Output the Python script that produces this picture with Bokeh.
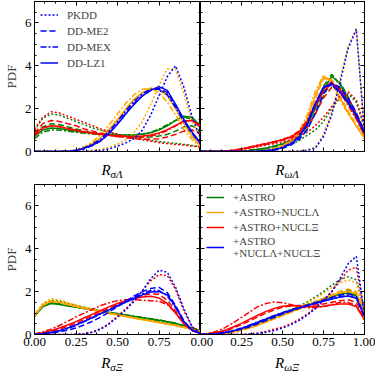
from bokeh.plotting import figure
from bokeh.layouts import column, row
from bokeh.models import Range1d, SingleIntervalTicker, LinearAxis, Legend, LegendItem, Div
from bokeh.embed import file_html
from bokeh.resources import INLINE

FONT = "Liberation Serif"

X = [0.00, 0.05, 0.10, 0.15, 0.20, 0.25, 0.30, 0.35, 0.40, 0.45, 0.50,
     0.55, 0.60, 0.65, 0.70, 0.75, 0.80, 0.85, 0.90, 0.95, 1.00]

GROUPS = ["ASTRO", "NL", "NX", "ALL"]
GROUP_LABELS = ["+ASTRO", "+ASTRO+NUCLΛ", "+ASTRO+NUCLΞ", "+ASTRO\n+NUCLΛ+NUCLΞ"]
GROUP_COLORS = ["green", "orange", "red", "blue"]
MODELS = ["PKDD", "ME2", "MEX", "LZ1"]
MODEL_LABELS = ["PKDD", "DD-ME2", "DD-MEX", "DD-LZ1"]
MODEL_DASHES = ["2 2", "6 3", "6 2 2 2", "solid"]

# ---------------- R_sigma_Lambda ----------------
SL_ASTRO_PKDD = [1.00,1.55,1.75,1.70,1.55,1.40,1.25,1.10,1.00,0.90,0.80,0.72,0.65,0.58,0.52,0.47,0.42,0.38,0.33,0.28,0.22]
SL_ASTRO_ME2 = [0.80,1.15,1.30,1.25,1.15,1.05,0.95,0.88,0.82,0.77,0.73,0.70,0.68,0.67,0.68,0.72,0.80,0.95,1.15,1.20,0.95]
SL_ASTRO_MEX = [0.60,0.90,1.00,1.00,0.95,0.90,0.85,0.82,0.80,0.78,0.77,0.76,0.78,0.82,0.90,1.05,1.25,1.45,1.60,1.50,1.10]
SL_ASTRO_LZ1 = [0.70,1.00,1.10,1.07,1.00,0.95,0.90,0.86,0.82,0.80,0.78,0.77,0.77,0.80,0.87,1.00,1.20,1.45,1.65,1.60,1.20]
SL_NL_PKDD = [0,0,0,0,0,0.01,0.02,0.05,0.10,0.20,0.35,0.55,0.90,1.40,2.20,3.10,3.85,3.85,2.70,1.40,0.60]
SL_NL_ME2 = [0,0,0,0,0.01,0.05,0.15,0.33,0.60,1.00,1.45,1.95,2.40,2.75,2.95,2.95,2.65,2.00,1.30,0.70,0.25]
SL_NL_MEX = [0,0,0,0,0.02,0.08,0.22,0.45,0.80,1.25,1.75,2.25,2.65,2.90,2.95,2.75,2.30,1.70,1.05,0.55,0.20]
SL_NL_LZ1 = [0,0,0,0,0.01,0.06,0.18,0.38,0.65,1.05,1.50,2.00,2.45,2.75,2.95,2.90,2.60,2.00,1.30,0.70,0.25]
SL_NX_PKDD = [1.05,1.60,1.85,1.80,1.65,1.50,1.35,1.20,1.05,0.92,0.80,0.70,0.62,0.55,0.48,0.42,0.37,0.33,0.30,0.26,0.20]
SL_NX_ME2 = [0.85,1.30,1.45,1.40,1.30,1.20,1.05,0.95,0.85,0.77,0.70,0.65,0.60,0.58,0.57,0.60,0.68,0.80,0.95,1.00,0.85]
SL_NX_MEX = [0.75,1.10,1.20,1.15,1.05,0.97,0.90,0.84,0.78,0.74,0.70,0.68,0.67,0.68,0.72,0.82,0.98,1.20,1.40,1.45,1.15]
SL_NX_LZ1 = [0.80,1.10,1.20,1.17,1.08,1.00,0.92,0.86,0.80,0.76,0.73,0.71,0.70,0.72,0.77,0.87,1.02,1.22,1.42,1.45,1.20]
SL_ALL_PKDD = [0,0,0,0,0,0,0.01,0.02,0.05,0.12,0.25,0.40,0.60,1.00,1.70,2.60,3.50,4.00,3.00,1.60,0.60]
SL_ALL_ME2 = [0,0,0,0,0,0.04,0.13,0.28,0.50,0.85,1.30,1.80,2.25,2.60,2.85,2.95,2.75,2.15,1.45,0.85,0.35]
SL_ALL_MEX = [0,0,0,0,0.01,0.06,0.17,0.35,0.58,0.95,1.40,1.90,2.35,2.70,2.90,2.90,2.65,2.05,1.40,0.85,0.35]
SL_ALL_LZ1 = [0,0,0,0,0,0.05,0.15,0.30,0.50,0.85,1.27,1.75,2.20,2.60,2.85,3.03,2.85,2.20,1.50,0.90,0.40]

# ---------------- R_omega_Lambda ----------------
WL_ASTRO_PKDD = [0,0,0,0,0,0.01,0.02,0.04,0.08,0.13,0.20,0.32,0.50,0.75,1.00,1.40,2.00,2.50,2.70,2.30,1.10]
WL_ASTRO_ME2 = [0,0,0,0,0.01,0.03,0.05,0.09,0.14,0.22,0.32,0.45,0.68,1.05,1.75,2.60,3.30,3.25,2.55,1.75,0.90]
WL_ASTRO_MEX = [0,0,0,0,0.01,0.03,0.06,0.10,0.16,0.26,0.37,0.52,0.80,1.30,2.15,3.05,3.60,3.15,2.30,1.55,0.75]
WL_ASTRO_LZ1 = [0,0,0,0,0.01,0.03,0.05,0.10,0.15,0.25,0.35,0.50,0.75,1.20,2.00,2.90,3.50,3.20,2.40,1.60,0.80]
WL_NL_PKDD = [0,0,0,0,0,0,0,0,0,0,0,0.01,0.03,0.07,0.20,0.80,1.85,3.35,4.90,5.75,0.90]
WL_NL_ME2 = [0,0,0,0,0,0,0,0.01,0.04,0.10,0.22,0.40,0.75,1.40,2.45,3.40,3.35,2.60,1.90,1.25,0.65]
WL_NL_MEX = [0,0,0,0,0,0,0,0.02,0.06,0.14,0.28,0.50,0.90,1.70,2.80,3.55,3.20,2.40,1.75,1.20,0.60]
WL_NL_LZ1 = [0,0,0,0,0,0,0,0.01,0.05,0.12,0.25,0.45,0.80,1.50,2.60,3.50,3.30,2.50,1.80,1.20,0.60]
WL_NX_PKDD = [0,0,0,0.01,0.03,0.08,0.15,0.22,0.30,0.37,0.45,0.55,0.70,0.90,1.20,1.60,2.10,2.60,2.80,2.40,1.20]
WL_NX_ME2 = [0,0,0,0.02,0.05,0.10,0.18,0.26,0.34,0.42,0.52,0.64,0.82,1.15,1.75,2.50,3.00,2.95,2.50,1.80,0.95]
WL_NX_MEX = [0,0,0,0.02,0.06,0.13,0.21,0.30,0.38,0.47,0.57,0.70,0.95,1.45,2.25,2.95,3.25,2.80,2.15,1.50,0.75]
WL_NX_LZ1 = [0,0,0,0.02,0.06,0.12,0.20,0.28,0.36,0.45,0.55,0.68,0.90,1.35,2.10,2.80,3.20,2.90,2.30,1.60,0.80]
WL_ALL_PKDD = [0,0,0,0,0,0,0,0,0,0,0,0.01,0.02,0.05,0.15,0.70,1.70,3.20,4.80,5.70,0.90]
WL_ALL_ME2 = [0,0,0,0,0,0,0,0.01,0.03,0.07,0.15,0.30,0.55,1.00,1.80,2.70,3.20,3.00,2.50,1.80,0.90]
WL_ALL_MEX = [0,0,0,0,0,0,0,0.01,0.04,0.09,0.20,0.38,0.70,1.30,2.25,3.00,3.10,2.75,2.25,1.65,0.85]
WL_ALL_LZ1 = [0,0,0,0,0,0,0,0.01,0.03,0.08,0.18,0.35,0.65,1.25,2.20,3.00,3.15,2.80,2.30,1.70,0.90]

# ---------------- R_sigma_Xi ----------------
SX_ASTRO_PKDD = [0.90,1.40,1.60,1.55,1.45,1.35,1.27,1.19,1.10,1.02,0.95,0.88,0.81,0.74,0.67,0.60,0.53,0.45,0.37,0.27,0.15]
SX_ASTRO_ME2 = [0.90,1.35,1.52,1.46,1.38,1.30,1.22,1.15,1.08,1.01,0.94,0.88,0.82,0.76,0.70,0.64,0.58,0.50,0.40,0.29,0.17]
SX_ASTRO_MEX = [0.85,1.30,1.48,1.43,1.36,1.29,1.22,1.16,1.10,1.04,0.98,0.92,0.86,0.80,0.74,0.68,0.61,0.53,0.43,0.31,0.18]
SX_ASTRO_LZ1 = [0.85,1.30,1.45,1.40,1.33,1.27,1.20,1.14,1.08,1.02,0.96,0.90,0.84,0.78,0.72,0.66,0.60,0.52,0.42,0.30,0.18]
SX_NL_PKDD = [0.92,1.45,1.68,1.62,1.50,1.39,1.28,1.18,1.09,1.00,0.92,0.84,0.76,0.69,0.62,0.55,0.48,0.41,0.33,0.24,0.14]
SX_NL_ME2 = [0.90,1.40,1.58,1.52,1.42,1.33,1.24,1.15,1.07,0.99,0.91,0.84,0.77,0.70,0.63,0.56,0.49,0.41,0.33,0.24,0.14]
SX_NL_MEX = [0.87,1.36,1.54,1.49,1.40,1.31,1.23,1.15,1.07,0.99,0.92,0.85,0.78,0.71,0.64,0.57,0.50,0.43,0.35,0.26,0.15]
SX_NL_LZ1 = [0.88,1.38,1.55,1.50,1.40,1.31,1.22,1.14,1.06,0.98,0.91,0.84,0.77,0.70,0.63,0.56,0.49,0.42,0.34,0.25,0.15]
SX_NX_PKDD = [0,0,0,0,0,0.01,0.04,0.12,0.28,0.52,0.85,1.20,1.60,2.05,2.50,2.80,2.75,2.10,1.10,0.35,0.05]
SX_NX_ME2 = [0.01,0.06,0.14,0.25,0.38,0.52,0.70,0.88,1.05,1.22,1.40,1.55,1.70,1.82,1.90,1.88,1.60,1.10,0.55,0.20,0.05]
SX_NX_MEX = [0.03,0.12,0.25,0.42,0.62,0.82,1.00,1.18,1.35,1.48,1.58,1.62,1.62,1.60,1.58,1.55,1.40,1.00,0.50,0.18,0.05]
SX_NX_LZ1 = [0.02,0.08,0.18,0.30,0.45,0.60,0.78,0.95,1.12,1.30,1.45,1.58,1.68,1.75,1.78,1.70,1.45,1.00,0.50,0.18,0.05]
SX_ALL_PKDD = [0,0,0,0,0,0.01,0.03,0.10,0.25,0.50,0.80,1.15,1.55,2.05,2.60,3.00,2.90,2.20,1.20,0.35,0.05]
SX_ALL_ME2 = [0,0.02,0.06,0.12,0.20,0.30,0.45,0.62,0.82,1.05,1.30,1.55,1.80,2.00,2.15,2.20,1.95,1.35,0.65,0.20,0.05]
SX_ALL_MEX = [0,0.03,0.09,0.17,0.28,0.42,0.60,0.78,0.97,1.15,1.35,1.55,1.75,1.90,2.05,2.05,1.80,1.25,0.60,0.20,0.05]
SX_ALL_LZ1 = [0,0.03,0.10,0.18,0.30,0.45,0.62,0.80,0.98,1.15,1.33,1.50,1.68,1.85,1.98,2.00,1.85,1.30,0.60,0.20,0.05]

# ---------------- R_omega_Xi ----------------
WX_ASTRO_PKDD = [0,0,0.02,0.05,0.10,0.20,0.32,0.45,0.60,0.77,0.95,1.13,1.32,1.52,1.75,2.00,2.30,2.55,2.70,2.55,1.00]
WX_ASTRO_ME2 = [0,0.01,0.03,0.07,0.13,0.22,0.34,0.48,0.63,0.79,0.95,1.10,1.24,1.38,1.53,1.68,1.83,1.95,2.05,1.95,0.95]
WX_ASTRO_MEX = [0,0.01,0.04,0.09,0.17,0.28,0.41,0.56,0.72,0.87,1.02,1.15,1.27,1.39,1.51,1.63,1.75,1.85,1.90,1.80,0.90]
WX_ASTRO_LZ1 = [0,0.01,0.03,0.08,0.15,0.25,0.38,0.52,0.68,0.84,1.00,1.13,1.25,1.38,1.52,1.65,1.78,1.88,1.95,1.85,0.90]
WX_NL_PKDD = [0,0,0.02,0.05,0.10,0.18,0.29,0.42,0.56,0.72,0.90,1.08,1.27,1.47,1.68,1.92,2.18,2.40,2.55,2.40,0.95]
WX_NL_ME2 = [0,0.01,0.02,0.06,0.12,0.20,0.31,0.44,0.58,0.73,0.88,1.03,1.18,1.34,1.51,1.69,1.87,2.02,2.12,2.00,1.00]
WX_NL_MEX = [0,0.01,0.03,0.08,0.14,0.23,0.35,0.48,0.62,0.77,0.92,1.07,1.21,1.36,1.52,1.68,1.83,1.95,2.00,1.90,0.95]
WX_NL_LZ1 = [0,0.01,0.03,0.07,0.13,0.22,0.33,0.46,0.60,0.75,0.90,1.05,1.19,1.34,1.50,1.66,1.82,1.95,2.02,1.92,0.95]
WX_NX_PKDD = [0,0,0,0,0,0.01,0.03,0.07,0.15,0.25,0.35,0.50,0.70,0.95,1.25,1.60,2.00,2.50,3.00,3.15,1.00]
WX_NX_ME2 = [0,0.02,0.08,0.17,0.30,0.46,0.64,0.82,1.00,1.15,1.27,1.33,1.35,1.36,1.38,1.42,1.50,1.58,1.62,1.50,0.75]
WX_NX_MEX = [0,0.05,0.15,0.32,0.55,0.80,1.05,1.30,1.45,1.52,1.48,1.40,1.30,1.25,1.25,1.30,1.40,1.50,1.50,1.35,0.70]
WX_NX_LZ1 = [0,0.03,0.10,0.20,0.35,0.52,0.72,0.90,1.08,1.22,1.32,1.35,1.33,1.30,1.30,1.32,1.38,1.42,1.42,1.30,0.70]
WX_ALL_PKDD = [0,0,0,0,0,0,0.02,0.05,0.10,0.18,0.30,0.45,0.65,0.90,1.20,1.60,2.00,2.60,3.30,3.65,0.90]
WX_ALL_ME2 = [0,0.01,0.03,0.08,0.15,0.24,0.36,0.50,0.65,0.80,0.95,1.09,1.22,1.35,1.48,1.61,1.73,1.84,1.90,1.78,0.88]
WX_ALL_MEX = [0,0.01,0.04,0.10,0.19,0.30,0.44,0.59,0.74,0.89,1.02,1.14,1.25,1.36,1.47,1.57,1.67,1.76,1.80,1.70,0.85]
WX_ALL_LZ1 = [0,0.01,0.04,0.10,0.18,0.28,0.42,0.57,0.72,0.87,1.00,1.12,1.23,1.34,1.45,1.55,1.65,1.75,1.80,1.70,0.85]

X_TICK_LABELS = {0: "0.00", 0.25: "0.25", 0.5: "0.50", 0.75: "0.75", 1: "1.00"}
X_LABEL_SUBS = ["σΛ", "ωΛ", "σΞ", "ωΞ"]


def panel_data(prefix):
    g = globals()
    return {(grp, mod): g[f"{prefix}_{grp}_{mod}"] for grp in GROUPS for mod in MODELS}


def style_axis(ax, show_labels):
    ax.major_tick_in = 4
    ax.major_tick_out = 0
    ax.minor_tick_in = 2
    ax.minor_tick_out = 0
    ax.axis_line_color = "black"
    ax.major_tick_line_color = "black"
    ax.minor_tick_line_color = "black"
    ax.major_label_text_font = FONT
    if show_labels:
        ax.major_label_text_color = "black"
        ax.major_label_text_font_size = "13px"
        ax.major_label_standoff = 3
    else:
        ax.major_label_text_color = None
        ax.major_label_text_font_size = "0px"
        ax.major_label_standoff = 0


def make_panel(prefix, show_x, show_y, fw, fh, mb, shift=False):
    kw = {}
    if shift:
        kw["styles"] = {"margin-left": f"-{mb[0]}px"}
    p = figure(frame_width=fw, frame_height=fh, output_backend="svg",
               toolbar_location=None, x_range=Range1d(0, 1), y_range=Range1d(0, 7),
               min_border_left=mb[0], min_border_right=mb[1],
               min_border_top=mb[2], min_border_bottom=mb[3],
               x_axis_type=None, y_axis_type=None, **kw)
    p.background_fill_color = "white"
    if shift:
        p.border_fill_alpha = 0
    else:
        p.border_fill_color = "white"
    p.outline_line_color = "black"
    p.grid.visible = False
    for loc, shown in (("below", show_x), ("above", False)):
        ax = LinearAxis(ticker=SingleIntervalTicker(interval=0.25, num_minor_ticks=4))
        style_axis(ax, shown)
        if shown:
            ax.major_label_overrides = dict(X_TICK_LABELS)
        p.add_layout(ax, loc)
    for loc, shown in (("left", show_y), ("right", False)):
        ax = LinearAxis(ticker=SingleIntervalTicker(interval=2, num_minor_ticks=4))
        style_axis(ax, shown)
        if shown:
            ax.axis_label = "PDF"
            ax.axis_label_text_font = FONT
            ax.axis_label_text_font_style = "normal"
            ax.axis_label_text_font_size = "13px"
            ax.axis_label_standoff = 3
        p.add_layout(ax, loc)
    data = panel_data(prefix)
    rends = {}
    for gi, grp in enumerate(GROUPS):
        for mi, mod in enumerate(MODELS):
            r = p.line(X, data[(grp, mod)], line_color=GROUP_COLORS[gi],
                       line_dash=MODEL_DASHES[mi], line_width=1.5)
            rends[(grp, mod)] = r
    return p, rends


LEFT_W = 24
FW_L, FW_R = 166, 164
SHIFT = 10
RIGHT_PAD = 11

p1, r1 = make_panel("SL", False, True, FW_L, 150, (LEFT_W, 0, 1, 7))
p2, r2 = make_panel("WL", False, False, FW_R, 150, (SHIFT, RIGHT_PAD, 1, 7), shift=True)
p3, r3 = make_panel("SX", True, True, FW_L, 150, (LEFT_W, 0, 0, 17))
p4, r4 = make_panel("WX", True, False, FW_R, 150, (SHIFT, RIGHT_PAD, 0, 17), shift=True)

# one shared "0.00" label between the two bottom panels (drawn by the right panel)
p3.below[0].major_label_overrides = {0: "0.00", 0.25: "0.25", 0.5: "0.50", 0.75: "0.75", 1: ""}


def xlabel(sub, lead, fw, h, lh):
    html = (f'<div style="width:{fw}px;margin-left:{lead}px;text-align:center;'
            f'font-family:\'{FONT}\';font-size:15px;line-height:{lh}px;color:black;">'
            f'<i>R</i><i style="font-size:11px;position:relative;top:3px;">{sub}</i></div>')
    return Div(text=html, width=lead + fw, height=h)


lab_top = row(xlabel(X_LABEL_SUBS[0], LEFT_W, FW_L, 16, 14),
              xlabel(X_LABEL_SUBS[1], 0, FW_R, 16, 14))
lab_bot = row(xlabel(X_LABEL_SUBS[2], LEFT_W, FW_L, 15, 13),
              xlabel(X_LABEL_SUBS[3], 0, FW_R, 15, 13))

leg1 = Legend(items=[LegendItem(label=MODEL_LABELS[i], renderers=[r1[("ALL", m)]])
                     for i, m in enumerate(MODELS)])
leg2 = Legend(items=[LegendItem(label=GROUP_LABELS[i], renderers=[r4[(g, "LZ1")]])
                     for i, g in enumerate(GROUPS)])
for lg in (leg1, leg2):
    lg.location = "top_left"
    lg.label_text_font = FONT
    lg.label_text_font_size = "11px"
    lg.border_line_color = None
    lg.background_fill_alpha = 0
    lg.glyph_width = 18
    lg.glyph_height = 14
    lg.label_height = 14
    lg.spacing = 1
    lg.padding = 3
    lg.margin = 6
    lg.label_standoff = 9
leg1.glyph_height = 15
leg1.label_height = 15
leg1.spacing = 1
p1.add_layout(leg1)
p4.add_layout(leg2)

layout = column(row(p1, p2), lab_top, row(p3, p4), lab_bot)
open("out.html", "w").write(file_html(layout, INLINE))
